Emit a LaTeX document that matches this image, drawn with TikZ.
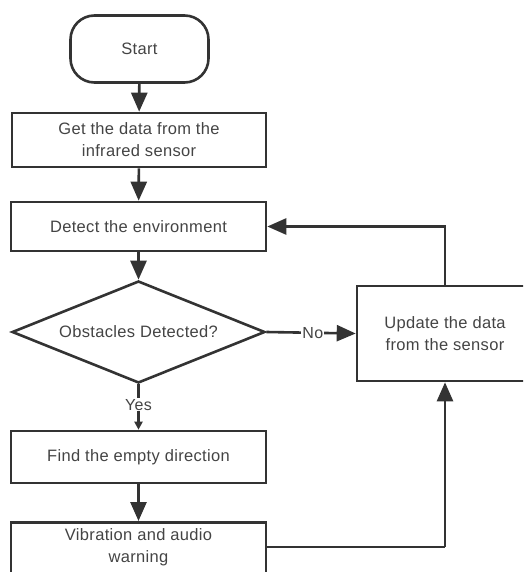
\documentclass[tikz,border=0pt]{standalone}
\usepackage{fontspec}
\setmainfont{Liberation Sans}[LetterSpace=2]
\usetikzlibrary{arrows.meta,shapes.geometric}
\definecolor{ln}{HTML}{333333}
\definecolor{tx}{HTML}{444444}
\tikzset{
  box/.style={draw=ln, line width=2.6pt, text=tx, align=center, inner sep=0pt},
  conn/.style={draw=ln, line width=2.6pt, -{Triangle[length=19pt,width=16pt]}},
  plain/.style={draw=ln, line width=2.6pt},
  lbl/.style={fill=white, text=tx, inner sep=1pt, font=\fontsize{16}{18}\selectfont},
}
\begin{document}
\begin{tikzpicture}[x=1pt,y=-1pt, font=\fontsize{16.5}{22}\selectfont]
\useasboundingbox (0,0) rectangle (523,572);
\clip (0,0) rectangle (523,572);
\node[box, minimum width=138pt, minimum height=67pt, rounded corners=24pt] (start) at (139.5,49) {Start};
\node[box, minimum width=254pt, minimum height=54pt] (get) at (139,140) {Get the data from the\\infrared sensor};
\node[box, minimum width=255pt, minimum height=49pt] (detect) at (138.5,226.5) {Detect the environment};
\node[box, shape=diamond, minimum width=253pt, minimum height=102pt, aspect=2.5] (dec) at (138.5,332) {Obstacles Detected?};
\node[box, minimum width=176pt, minimum height=95pt] (upd) at (445,333.5) {Update the data\\from the sensor};
\node[box, minimum width=255pt, minimum height=52pt] (find) at (138.5,457) {Find the empty direction};
\node[box, minimum width=255pt, minimum height=70pt, anchor=north] (vib) at (138.5,521) {};
\node[text=tx, align=center] (vibt) at (138.5,547) {Vibration and audio\\warning};
\draw[conn] (start) -- (get);
\draw[conn] (get) -- (detect);
\draw[conn] (detect) -- (dec);
\draw[conn] (dec.east) -- node[lbl, pos=0.52] (no) {No} (upd.west);
\draw[conn, -{Triangle[length=8pt,width=8pt]}] (dec.south) -- node[lbl, pos=0.45] (yes) {Yes} (find.north);
\draw[conn] (find) -- (vib);
\coordinate (c1) at (upd.north |- detect.east);
\draw[conn] (upd.north) -- (c1) -- (detect.east);
\coordinate (c2) at (upd.south |- vibt.center);
\draw[plain] (vib.east |- vibt.center) -- (c2);
\draw[conn] (c2) -- (upd.south);
\end{tikzpicture}
\end{document}
